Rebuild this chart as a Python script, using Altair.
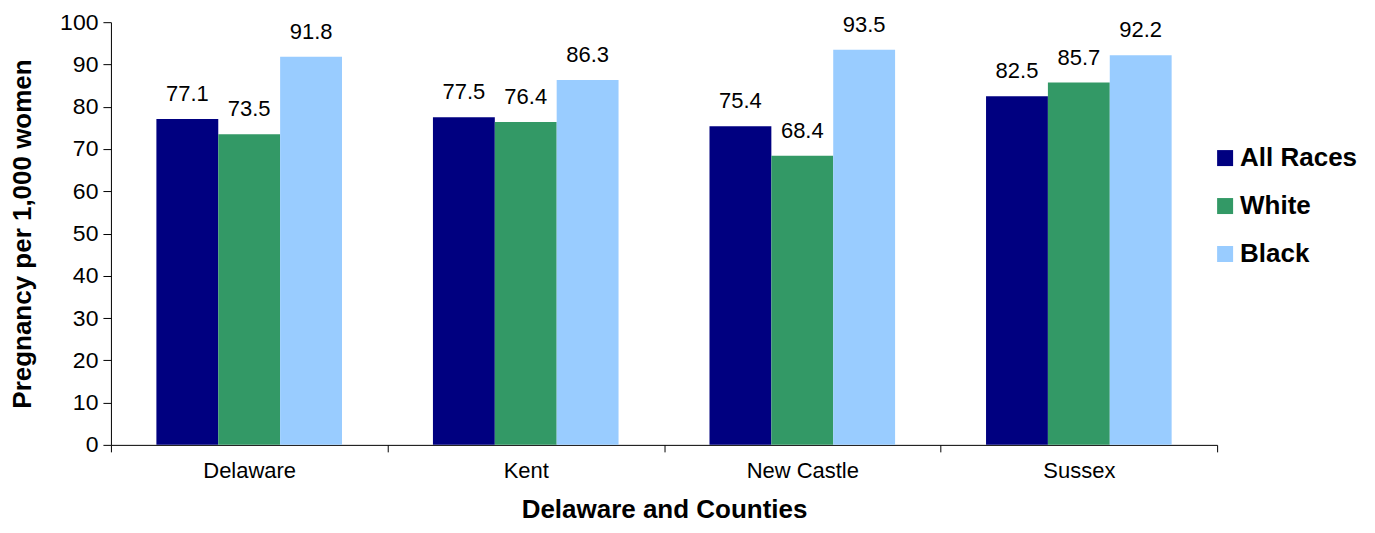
import altair as alt
import pandas as pd

areas = ["Delaware", "Kent", "New Castle", "Sussex"]
races = ["All Races", "White", "Black"]
all_races = [77.1, 77.5, 75.4, 82.5]
white = [73.5, 76.4, 68.4, 85.7]
black = [91.8, 86.3, 93.5, 92.2]
colors = ["#000080", "#339966", "#99CCFF"]

rows = []
for i, a in enumerate(areas):
    for r, vals in zip(races, [all_races, white, black]):
        rows.append({"area": a, "race": r, "value": vals[i]})
df = pd.DataFrame(rows)

font = "Liberation Sans"

base = alt.Chart(df).encode(
    x=alt.X("area:N", sort=areas,
            scale=alt.Scale(paddingInner=0, paddingOuter=0),
            axis=alt.Axis(title="Delaware and Counties", labelAngle=0, tickBand="extent",
                          labelFontSize=22, labelFont=font, labelColor="black",
                          titleFontSize=26, titleFont=font, titleFontWeight="bold",
                          titleColor="black", titlePadding=15, labelPadding=9,
                          tickSize=7, domainColor="black", tickColor="black")),
    xOffset=alt.XOffset("race:N", sort=races,
                        scale=alt.Scale(paddingInner=0, paddingOuter=0.735)),
)

bars = base.mark_bar().encode(
    y=alt.Y("value:Q", scale=alt.Scale(domain=[0, 100]),
            axis=alt.Axis(title="Pregnancy per 1,000 women", values=list(range(0, 101, 10)),
                          grid=False, labelFontSize=23, labelFont=font, labelColor="black",
                          titleFontSize=26, titleFont=font, titleFontWeight="bold",
                          titleColor="black", titlePadding=24, tickSize=8, labelPadding=5,
                          domainColor="black", tickColor="black")),
    color=alt.Color("race:N", sort=races,
                    scale=alt.Scale(domain=races, range=colors),
                    legend=alt.Legend(title=None, orient="none", legendX=1102, legendY=123,
                                      symbolType="square", symbolSize=256, symbolStrokeWidth=0,
                                      labelFontSize=26, labelFont=font, labelFontWeight="bold",
                                      labelColor="black", rowPadding=22, labelOffset=2)),
)

labels = base.mark_text(dy=-25, fontSize=22, font=font, color="black").encode(
    y="value:Q",
    text=alt.Text("value:Q", format=".1f"),
)

chart = (bars + labels).properties(
    width=1107, height=423,
    autosize=alt.AutoSizeParams(type="none"),
    padding={"left": 103, "top": 14, "right": 150, "bottom": 80},
).configure_view(stroke=None)

chart.save("out.html", embed_options={"renderer": "svg", "actions": False})
